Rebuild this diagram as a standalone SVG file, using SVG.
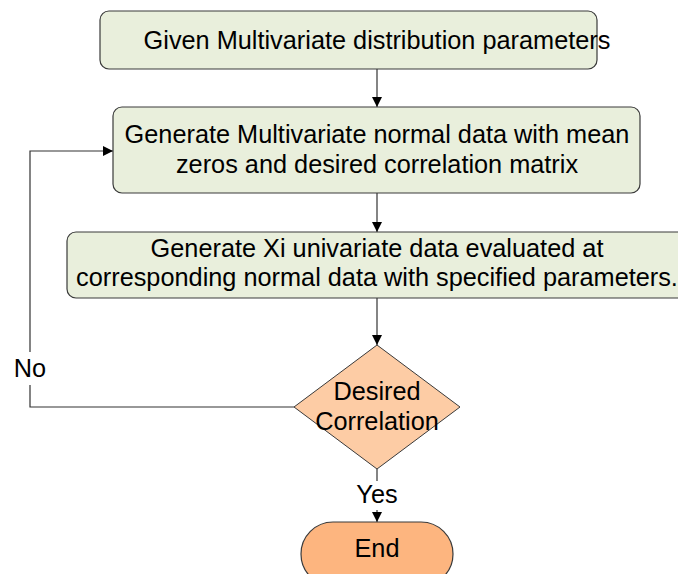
<svg xmlns="http://www.w3.org/2000/svg" width="678" height="574" viewBox="0 0 678 574">
<style>
.box{fill:#e9efdc;stroke:#3a3a3a;stroke-width:1.2}
.dec{fill:#fdcca5;stroke:#3a3a3a;stroke-width:1}
.term{fill:#fdb57f;stroke:#3a3a3a;stroke-width:1.2}
.t{font-family:"Liberation Sans",Arial,sans-serif;font-size:25.3px;fill:#000;text-anchor:middle}
.c{fill:none;stroke:#333;stroke-width:1.2}
</style>
<defs>
<marker id="ah" viewBox="0 0 10 10" refX="10" refY="5" markerWidth="10" markerHeight="10" markerUnits="userSpaceOnUse" orient="auto">
<path d="M0,0 L10,5 L0,10 z" fill="#000"/>
</marker>
</defs>
<rect width="678" height="574" fill="#fff"/>
<g id="connectors">
<path class="c" d="M377,69 V107" marker-end="url(#ah)"/>
<path class="c" d="M377,193 V232" marker-end="url(#ah)"/>
<path class="c" d="M377,298 V345" marker-end="url(#ah)"/>
<path class="c" d="M294,407 H30 V385"/>
<path class="c" d="M30,352 V151 H113" marker-end="url(#ah)"/>
<path class="c" d="M377,469 V481"/>
<path class="c" d="M377,510 V522" marker-end="url(#ah)"/>
<text class="t" x="30" y="377">No</text>
<text class="t" x="377" y="503">Yes</text>
</g>
<g id="n1">
<rect class="box" x="100" y="11" width="497" height="58" rx="9"/>
<text class="t" x="377" y="49">Given Multivariate distribution parameters</text>
</g>
<g id="n2">
<rect class="box" x="113" y="107" width="527" height="86" rx="9"/>
<text class="t" x="377" y="143">Generate Multivariate normal data with mean</text>
<text class="t" x="377" y="173">zeros and desired correlation matrix</text>
</g>
<g id="n3">
<rect class="box" x="67" y="232" width="630" height="66" rx="9"/>
<text class="t" x="377" y="257">Generate Xi univariate data evaluated at</text>
<text class="t" x="377" y="286">corresponding normal data with specified parameters.</text>
</g>
<g id="n4">
<polygon class="dec" points="377,345 460,407 377,469 294,407"/>
<text class="t" x="377" y="400">Desired</text>
<text class="t" x="377" y="430">Correlation</text>
</g>
<g id="n5">
<rect class="term" x="301" y="522" width="152" height="64" rx="32"/>
<text class="t" x="377" y="557">End</text>
</g>
</svg>
